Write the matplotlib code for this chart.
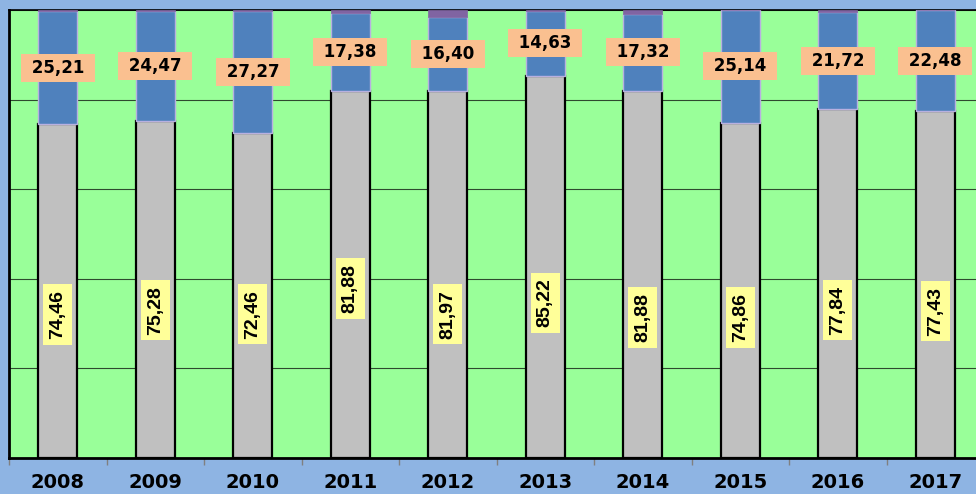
import matplotlib
matplotlib.use("Agg")
import matplotlib.pyplot as plt
import numpy as np

years = ["2008", "2009", "2010", "2011", "2012", "2013", "2014", "2015", "2016", "2017"]
grey_vals = [74.46, 75.28, 72.46, 81.88, 81.97, 85.22, 81.88, 74.86, 77.84, 77.43]
blue_vals = [25.21, 24.47, 27.27, 17.38, 16.40, 14.63, 17.32, 25.14, 21.72, 22.48]
purple_vals = [0.33, 0.25, 0.27, 0.74, 1.63, 0.15, 0.80, 0.00, 0.44, 0.09]

def fmt(v):
    return f"{v:.2f}".replace(".", ",")

# label anchor positions (layout) for grey-segment labels, in data units
grey_label_pos = [32.1, 33.0, 32.1, 37.9, 32.1, 34.6, 31.3, 31.3, 33.0, 32.8]

plt.rcParams['font.family'] = ['DejaVu Sans']

fig = plt.figure(figsize=(9.76, 4.94), dpi=100)
fig.patch.set_facecolor('#8EB4E3')
ax = fig.add_axes([9/976, 36/494, 975/976, 448/494])
ax.set_facecolor('#99FF99')

x = np.arange(len(years))
w = 0.4
ax.bar(x, grey_vals, w, color='#C0C0C0', edgecolor='black', linewidth=1.6, zorder=3)
ax.bar(x, blue_vals, w, bottom=grey_vals, color='#4F81BD', edgecolor='#B8B0E0', linewidth=1.0, zorder=3)
bottoms2 = [g + b for g, b in zip(grey_vals, blue_vals)]
ax.bar(x, purple_vals, w, bottom=bottoms2, color='#8064A2', edgecolor='#8064A2', linewidth=0.5, zorder=3)

for i in range(len(years)):
    ax.text(x[i], grey_vals[i] + blue_vals[i] / 2, " " + fmt(blue_vals[i]) + " ", ha='center', va='center',
            fontsize=12, fontweight='bold', color='black', zorder=5, family=['DejaVu Sans'],
            bbox=dict(boxstyle='square,pad=0.3', facecolor='#FAC090', edgecolor='none'))
    ax.text(x[i], grey_label_pos[i], fmt(grey_vals[i]), ha='center', va='center', rotation=90,
            fontsize=14, fontweight='bold', color='black', zorder=5,
            family=['Liberation Sans'],
            bbox=dict(boxstyle='square,pad=0.3', facecolor='#FFFF99', edgecolor='none'))

ax.set_xlim(-0.5, len(years) - 0.5)
ax.set_ylim(0, 100)
ax.set_yticks([0, 20, 40, 60, 80, 100])
ax.yaxis.grid(True, color='#2E4A2E', linewidth=0.8)
ax.set_axisbelow(True)
ax.tick_params(axis='y', left=False, labelleft=False)

ax.set_xticks(x)
ax.set_xticklabels(years, fontsize=14, fontweight='bold')
ax.tick_params(axis='x', which='major', length=0, pad=10.5)
ax.set_xticks(np.arange(-0.5, len(years), 1.0), minor=True)
ax.tick_params(axis='x', which='minor', length=5, color='#808080', width=1, direction='out')

for s in ['left', 'bottom']:
    ax.spines[s].set_linewidth(2)
    ax.spines[s].set_color('black')
ax.spines['top'].set_linewidth(1.2)
ax.spines['top'].set_color('black')
ax.spines['right'].set_visible(False)

fig.savefig('out.png', dpi=100, facecolor=fig.get_facecolor())
